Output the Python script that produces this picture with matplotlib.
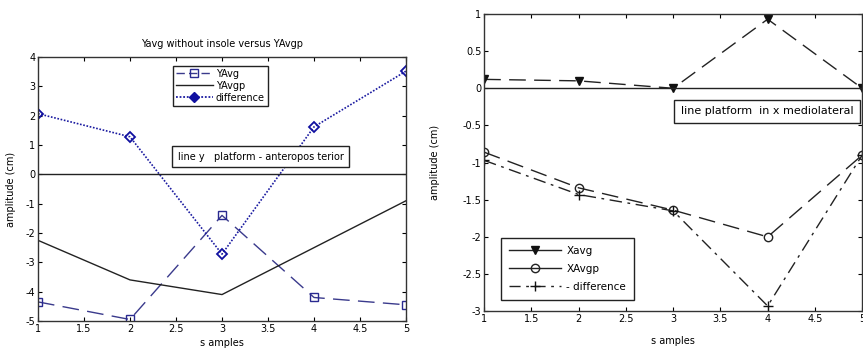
import matplotlib
matplotlib.use("Agg")
import matplotlib.pyplot as plt
from matplotlib.lines import Line2D

samples = [1, 2, 3, 4, 5]
# left panel
yavg = [-4.35, -4.95, -1.4, -4.2, -4.45]
yavgp = [-2.25, -3.6, -4.1, -2.5, -0.9]
ydiff = [2.07, 1.28, -2.72, 1.62, 3.52]
left_title = "Yavg without insole versus YAvgp"
left_note = "line y   platform - anteropos terior"
# right panel
xavg = [0.12, 0.1, 0.0, 0.93, 0.0]
xavgp = [-0.86, -1.34, -1.64, -2.0, -0.9]
xdiff = [-0.97, -1.43, -1.65, -2.93, -0.9]
right_note = "line platform  in x mediolateral"

x_ticks = [1, 1.5, 2, 2.5, 3, 3.5, 4, 4.5, 5]
x_ticklabels = ["1", "1.5", "2", "2.5", "3", "3.5", "4", "4.5", "5"]
left_yticks = [-5, -4, -3, -2, -1, 0, 1, 2, 3, 4]
right_yticks = [-3, -2.5, -2, -1.5, -1, -0.5, 0, 0.5, 1]
right_yticklabels = ["-3", "-2.5", "-2", "-1.5", "-1", "-0.5", "0", "0.5", "1"]

plt.rcParams['font.family'] = ['DejaVu Sans']
plt.rcParams['axes.unicode_minus'] = False
fs = 7

fig = plt.figure(figsize=(8.63, 3.5), dpi=100)

def style(ax):
    ax.tick_params(direction='in', top=True, right=True, labelsize=fs, length=3, pad=2)
    for s in ax.spines.values():
        s.set_linewidth(1.0)
        s.set_color('#333333')

# ---------- left ----------
ax1 = fig.add_axes([0.044, 0.083, 0.4265, 0.754])
ax1.plot(samples, yavg, linestyle=(0, (12, 6)), color='#3a3a8c', lw=1.0,
         marker='s', markersize=6, markerfacecolor='none', markeredgecolor='#2a2a90', label='YAvg')
ax1.plot(samples, yavgp, linestyle='-', color='#222222', lw=1.0, label='YAvgp')
ax1.plot(samples, ydiff, linestyle=(0, (1, 1)), color='#1a1aa0', lw=1.2,
         marker='D', markersize=5, markerfacecolor='none', markeredgecolor='#1010a0',
         markeredgewidth=1.3, label='difference')
ax1.axhline(0, color='#222222', lw=1.0)
ax1.set_xlim(1, 5)
ax1.set_ylim(-5, 4)
ax1.set_xticks(x_ticks)
ax1.set_xticklabels(x_ticklabels)
ax1.set_yticks(left_yticks)
style(ax1)
ax1.set_title(left_title, fontsize=fs, pad=7)
ax1.set_xlabel("s amples", fontsize=fs, labelpad=3)
ax1.set_ylabel("amplitude (cm)", fontsize=fs, labelpad=7)
hl = [Line2D([], [], linestyle=(0, (6, 3)), color='#3a3a8c', lw=1.0, marker='s', markersize=6,
             markerfacecolor='none', markeredgecolor='#2a2a90'),
      Line2D([], [], linestyle='-', color='#222222', lw=1.0),
      Line2D([], [], linestyle=(0, (1, 1)), color='#1a1aa0', lw=1.3, marker='D', markersize=5,
             markerfacecolor='#1010a0', markeredgecolor='#1010a0')]
leg1 = ax1.legend(hl, ['YAvg', 'YAvgp', 'difference'], loc='upper center',
                  bbox_to_anchor=(0.495, 0.985), fontsize=fs, fancybox=False,
                  edgecolor='#222222', framealpha=1, handlelength=3.8, handletextpad=0.3,
                  labelspacing=0.2, borderpad=0.3)
leg1.get_frame().set_linewidth(1.0)
ax1.text(2.52, 0.6, left_note, fontsize=fs, va='center', ha='left',
         bbox=dict(boxstyle='square,pad=0.55', facecolor='white', edgecolor='#222222', lw=1.0))

# ---------- right ----------
ax2 = fig.add_axes([0.561, 0.111, 0.438, 0.849])
ax2.plot(samples, xavg, linestyle=(0, (12, 6)), color='#222222', lw=1.0,
         marker='v', markersize=6, markerfacecolor='#111111', markeredgecolor='#111111')
ax2.plot(samples, xavgp, linestyle=(0, (12, 6)), color='#222222', lw=1.0,
         marker='o', markersize=6, markerfacecolor='none', markeredgecolor='#222222')
ax2.plot(samples, xdiff, linestyle=(0, (9, 4, 2, 4)), color='#222222', lw=1.0,
         marker='+', markersize=7, markeredgecolor='#111111')
ax2.axhline(0, color='#222222', lw=1.0)
ax2.set_xlim(1, 5)
ax2.set_ylim(-3, 1)
ax2.set_xticks(x_ticks)
ax2.set_xticklabels(x_ticklabels)
ax2.set_yticks(right_yticks)
ax2.set_yticklabels(right_yticklabels)
style(ax2)
ax2.set_xlabel("s amples", fontsize=fs, labelpad=9)
ax2.set_ylabel("amplitude (cm)", fontsize=fs, labelpad=16)
hr = [Line2D([], [], linestyle='-', color='#222222', lw=1.0, marker='v', markersize=6,
             markerfacecolor='#111111', markeredgecolor='#111111'),
      Line2D([], [], linestyle='-', color='#222222', lw=1.0, marker='o', markersize=6,
             markerfacecolor='none', markeredgecolor='#222222'),
      Line2D([], [], linestyle=(0, (8, 4, 2, 4)), color='#222222', lw=1.0, marker='+',
             markersize=7, markeredgecolor='#111111')]
leg2 = ax2.legend(hr, ['Xavg', 'XAvgp', '- difference'], loc='lower left',
                  bbox_to_anchor=(0.03, 0.02), fontsize=7.5, fancybox=False,
                  edgecolor='#222222', framealpha=1, handlelength=5.0, handletextpad=0.5,
                  labelspacing=0.75, borderpad=0.8)
leg2.get_frame().set_linewidth(1.0)
ax2.text(3.08, -0.31, right_note, fontsize=8, va='center', ha='left',
         bbox=dict(boxstyle='square,pad=0.6', facecolor='white', edgecolor='#222222', lw=1.0))

fig.savefig("out.png", dpi=100)
